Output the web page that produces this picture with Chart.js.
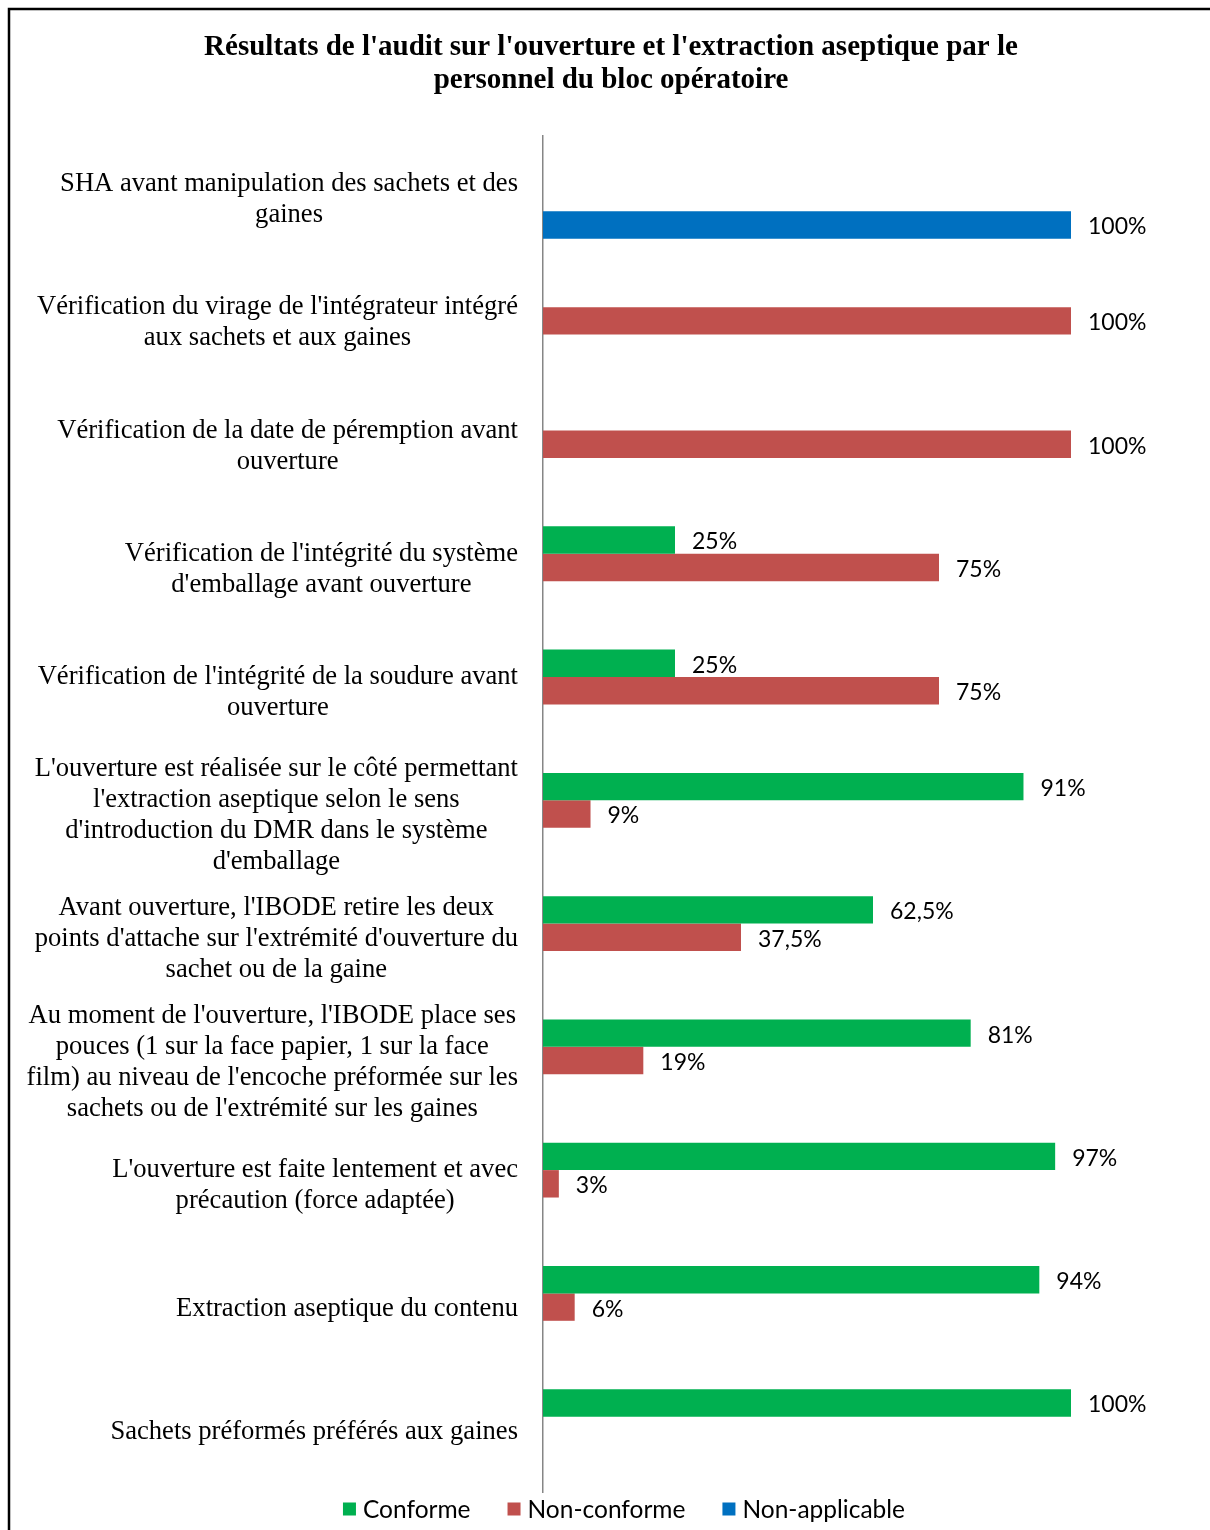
<!DOCTYPE html>
<html>
<head>
<meta charset="utf-8">
<script src="https://cdn.jsdelivr.net/npm/chart.js@4.4.1/dist/chart.umd.min.js"></script>
<style>
html,body{margin:0;padding:0;background:#fff;}
#wrap{position:relative;width:1210px;height:1530px;}
</style>
</head>
<body>
<div id="wrap"><canvas id="c" width="1210" height="1530"></canvas></div>
<script>
const titleLines = ["Résultats de l'audit sur l'ouverture et l'extraction aseptique par le", "personnel du bloc opératoire"];
const categories = [
  ["SHA avant manipulation des sachets et des", "gaines"],
  ["Vérification du virage de l'intégrateur intégré", "aux sachets et aux gaines"],
  ["Vérification de la date de péremption avant", "ouverture"],
  ["Vérification de l'intégrité du système", "d'emballage avant ouverture"],
  ["Vérification de l'intégrité de la soudure avant", "ouverture"],
  ["L'ouverture est réalisée sur le côté permettant", "l'extraction aseptique selon le sens", "d'introduction du DMR dans le système", "d'emballage"],
  ["Avant ouverture, l'IBODE retire les deux", "points d'attache sur l'extrémité d'ouverture du", "sachet ou de la gaine"],
  ["Au moment de l'ouverture, l'IBODE place ses", "pouces (1 sur la face papier, 1 sur la face", "film) au niveau de l'encoche préformée sur les", "sachets ou de l'extrémité sur les gaines"],
  ["L'ouverture est faite lentement et avec", "précaution (force adaptée)"],
  ["Extraction aseptique du contenu"],
  ["Sachets préformés préférés aux gaines"]
];
const conforme      = [null, null, null, 25, 25, 91, 62.5, 81, 97, 94, 100];
const nonConforme   = [null, 100, 100, 75, 75, 9, 37.5, 19, 3, 6, null];
const nonApplicable = [100, null, null, null, null, null, null, null, null, null, null];
const seriesNames = ["Conforme", "Non-conforme", "Non-applicable"];
const seriesColors = ["#00B050", "#C0504D", "#0070C0"];
const xTicks = [0, 100];

const SERIF = "'Liberation Serif', 'Times New Roman', serif";
const SANS = "Lato, 'Open Sans', sans-serif";

function fmt(v){ return (Number.isInteger(v) ? String(v) : String(v).replace('.', ',')) + '%'; }

const decor = {
  id: 'decor',
  beforeDraw(chart){
    const ctx = chart.ctx;
    ctx.save();
    ctx.fillStyle = '#fff';
    ctx.fillRect(0,0,chart.width,chart.height);
    ctx.strokeStyle = '#000';
    ctx.lineWidth = 2.5;
    ctx.beginPath();
    ctx.moveTo(9, chart.height + 5);
    ctx.lineTo(9, 9);
    ctx.lineTo(chart.width + 5, 9);
    ctx.stroke();
    // title
    ctx.fillStyle = '#000';
    ctx.font = "bold 29px " + SERIF;
    ctx.textAlign = 'center';
    ctx.textBaseline = 'middle';
    titleLines.forEach((t,i)=> ctx.fillText(t, 611, 48 + i*33));
    ctx.restore();
  },
  afterDraw(chart){
    const ctx = chart.ctx;
    const y = chart.scales.y;
    ctx.save();
    // category labels
    ctx.fillStyle = '#000';
    ctx.font = "26.6px " + SERIF;
    ctx.textBaseline = 'middle';
    ctx.textAlign = 'center';
    const lh = 31;
    categories.forEach((lines, i) => {
      const cy = y.getPixelForValue(i) + 2;
      const maxW = Math.max(...lines.map(l => ctx.measureText(l).width));
      const cx = 518 - maxW/2;
      const start = cy - (lines.length-1)*lh/2;
      lines.forEach((l, k) => ctx.fillText(l, cx, start + k*lh));
    });
    // value labels
    ctx.font = "23px " + SANS;
    ctx.textAlign = 'left';
    chart.data.datasets.forEach((ds, di) => {
      const meta = chart.getDatasetMeta(di);
      meta.data.forEach((bar, i) => {
        const v = ds.data[i];
        if (v === null || v === undefined) return;
        ctx.fillText(fmt(v), bar.x + 17, bar.y + 2);
      });
    });
    // legend
    ctx.font = "24.5px " + SANS;
    const gap = 7, itemGap = 37, box = 13;
    const widths = seriesNames.map(n => box + gap + ctx.measureText(n).width);
    const total = widths.reduce((a,b)=>a+b,0) + itemGap*(widths.length-1);
    let x = 624 - total/2;
    const ly = 1509;
    seriesNames.forEach((n, i) => {
      ctx.fillStyle = seriesColors[i];
      ctx.fillRect(x, ly - box/2, box, box);
      ctx.fillStyle = '#000';
      ctx.fillText(n, x + box + gap, ly + 1);
      x += widths[i] + itemGap;
    });
    ctx.restore();
  }
};

new Chart(document.getElementById('c'), {
  type: 'bar',
  data: {
    labels: categories,
    datasets: [
      { label: seriesNames[0], data: conforme, backgroundColor: seriesColors[0] },
      { label: seriesNames[1], data: nonConforme, backgroundColor: seriesColors[1] },
      { label: seriesNames[2], data: nonApplicable, backgroundColor: seriesColors[2] }
    ]
  },
  options: {
    indexAxis: 'y',
    responsive: false,
    animation: false,
    devicePixelRatio: 1,
    categoryPercentage: 0.667,
    barPercentage: 1,
    layout: { padding: { left: 12, top: 136, right: 139, bottom: 38 } },
    plugins: { legend: { display: false }, title: { display: false }, tooltip: { enabled: false } },
    scales: {
      x: { display: false, min: xTicks[0], max: xTicks[1] },
      y: {
        afterFit(scale){ scale.width = 531; },
        ticks: { display: false },
        grid: { display: false },
        border: { display: true, color: '#868686', width: 1.5 }
      }
    }
  },
  plugins: [decor]
});
</script>
</body>
</html>
